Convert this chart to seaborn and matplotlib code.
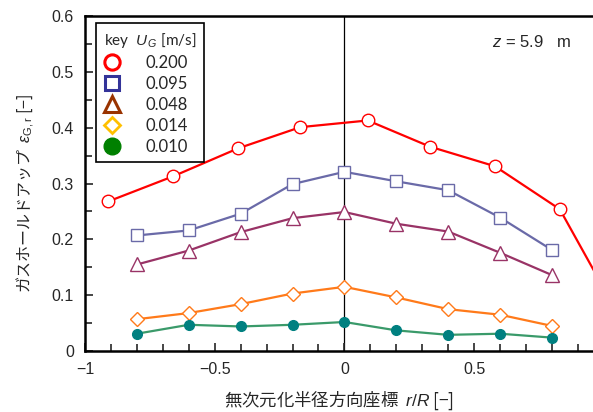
import numpy as np
import pandas as pd
import matplotlib
matplotlib.use("Agg")
import matplotlib.pyplot as plt
import seaborn as sns
from matplotlib.lines import Line2D
from matplotlib.ticker import MultipleLocator

# Dados (posicao radial adimensional r/R e holdup de gas)
x_red = [-0.91, -0.66, -0.41, -0.17, 0.09, 0.33, 0.58, 0.83, 1.08]
y_red = [0.268, 0.313, 0.363, 0.401, 0.413, 0.366, 0.331, 0.254, 0.045]

x_pos = [-0.8, -0.6, -0.4, -0.2, 0.0, 0.2, 0.4, 0.6, 0.8]
y_095 = [0.207, 0.216, 0.246, 0.299, 0.321, 0.304, 0.288, 0.239, 0.181]
y_048 = [0.155, 0.180, 0.213, 0.238, 0.249, 0.228, 0.214, 0.176, 0.136]
y_014 = [0.057, 0.068, 0.084, 0.103, 0.115, 0.096, 0.075, 0.065, 0.045]
y_010 = [0.031, 0.047, 0.044, 0.047, 0.052, 0.037, 0.029, 0.031, 0.024]

ug_labels = ["0.200", "0.095", "0.048", "0.014", "0.010"]

sns.set_style("ticks")
plt.rcParams["font.family"] = ["Liberation Sans", "Noto Sans CJK JP", "DejaVu Sans"]
plt.rcParams["mathtext.fontset"] = "custom"
plt.rcParams["mathtext.it"] = "Liberation Sans:italic"
plt.rcParams["mathtext.rm"] = "Liberation Sans"

fig = plt.figure(figsize=(5.93, 4.12), dpi=100)
ax = fig.add_axes([0.1433, 0.148, 0.8567, 0.813])

# Series: (x, y, marcador, cor da linha, tamanho, preenchido)
series = [
    (x_red, y_red, "o", "#FF0000", 9, False),
    (x_pos, y_095, "s", "#6A6AA8", 9, False),
    (x_pos, y_048, "^", "#993366", 10, False),
    (x_pos, y_014, "D", "#FF7A1A", 7.5, False),
    (x_pos, y_010, "o", "#3A9A6A", 7, True),
]

for xs, ys, mk, cor, ms, cheio in series:
    df = pd.DataFrame({"x": xs, "y": ys})
    sns.lineplot(data=df, x="x", y="y", ax=ax, color=cor, lw=1.6, marker=mk,
                 markersize=ms, markerfacecolor="#008080" if cheio else "white",
                 markeredgecolor="#008080" if cheio else cor,
                 markeredgewidth=1.0, legend=False, sort=False)

# Linha vertical no centro
ax.axvline(0, color="black", lw=0.9, zorder=0)

ax.set_xlim(-1, 0.958)
ax.set_ylim(0, 0.6)
ax.xaxis.set_major_locator(MultipleLocator(0.5))
ax.xaxis.set_minor_locator(MultipleLocator(0.1))
ax.yaxis.set_major_locator(MultipleLocator(0.1))
ax.yaxis.set_minor_locator(MultipleLocator(0.05))
ax.set_xticks([-1, -0.5, 0, 0.5])
ax.set_xticklabels(["\u22121", "\u22120.5", "0", "0.5"])
ax.set_yticks([0, 0.1, 0.2, 0.3, 0.4, 0.5, 0.6])
ax.set_yticklabels(["0", "0.1", "0.2", "0.3", "0.4", "0.5", "0.6"])
ax.tick_params(which="both", direction="in", labelsize=11.5, width=1.2, pad=8)
ax.tick_params(which="major", length=6)
ax.tick_params(which="minor", length=5)
for lado in ["left", "bottom", "top"]:
    ax.spines[lado].set_linewidth(1.8)
    ax.spines[lado].set_color("black")
ax.spines["right"].set_visible(False)

ax.set_xlabel("無次元化半径方向座標  $r/R$ [\u2212]", fontsize=12.5, labelpad=9,
              family=["Noto Sans CJK JP", "DejaVu Sans"])
ax.set_ylabel("ガスホールドアップ  $\\varepsilon_{\\mathrm{G,r}}$ [\u2212]", fontsize=11.5,
              family=["Noto Sans CJK JP", "DejaVu Sans"])
ax.yaxis.set_label_coords(-0.095, 0.47)

ax.text(0.57, 0.553, "$z$ = 5.9   m", fontsize=12, ha="left", va="center")

# Legenda com cores proprias (sem linhas)
handles = [
    Line2D([], [], ls="none", marker="o", ms=11, mfc="white", mec="#FF0000", mew=2.2),
    Line2D([], [], ls="none", marker="s", ms=10, mfc="white", mec="#333399", mew=2.2),
    Line2D([], [], ls="none", marker="^", ms=11, mfc="white", mec="#993300", mew=2.2),
    Line2D([], [], ls="none", marker="D", ms=8, mfc="white", mec="#FFC000", mew=2.0),
    Line2D([], [], ls="none", marker="o", ms=12, mfc="#008000", mec="#008000"),
]
leg = ax.legend(handles, ug_labels, title="key  $U_{\\,G}$ [m/s]", loc="upper left",
                bbox_to_anchor=(0.022, 0.979), title_fontsize=11,
                frameon=True, fancybox=False, edgecolor="black", framealpha=1,
                handletextpad=1.5, labelspacing=0.3, borderpad=0.45,
                handlelength=1.0, borderaxespad=0,
                prop={"family": ["Lato", "DejaVu Sans"], "size": 12})
leg.get_title().set_family(["Lato", "DejaVu Sans"])
leg.get_frame().set_linewidth(1.2)
leg._legend_box.align = "left"

fig.savefig("out.png", dpi=100)
